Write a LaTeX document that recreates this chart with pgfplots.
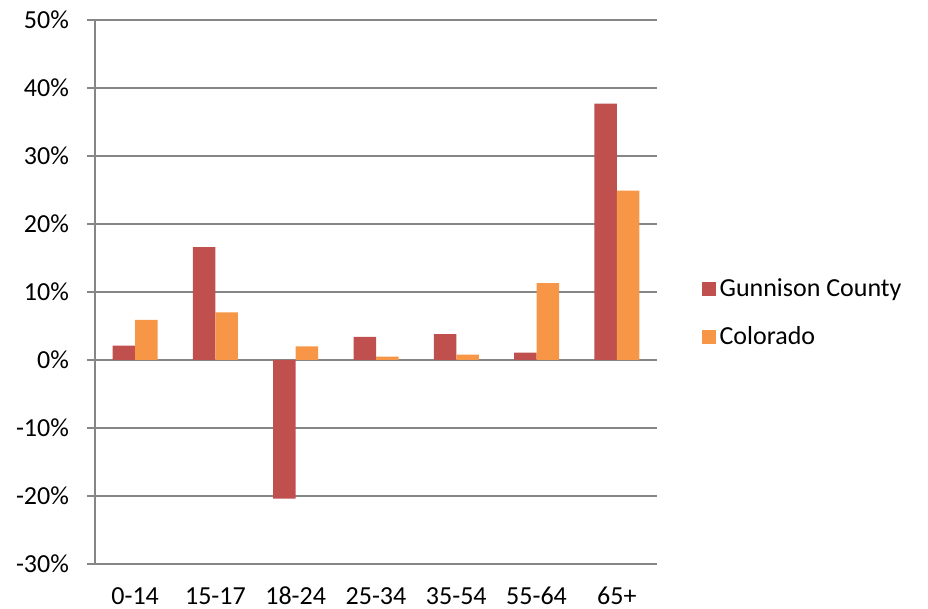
\documentclass[border=0pt]{standalone}
\usepackage{pgfplots}
\pgfplotsset{compat=1.18}
\usepackage{fontspec}
\setmainfont{Carlito}

\definecolor{gunnison}{HTML}{C0504D}
\definecolor{colorado}{HTML}{F79646}
\definecolor{gridgray}{HTML}{868686}

% Population change by age group, in percent
\pgfplotstableread{
idx gunnison colorado
0   2.1      5.9
1   16.6     7.0
2   -20.4    2.0
3   3.4      0.5
4   3.8      0.8
5   1.1      11.3
6   37.7     24.9
}\agedata

\begin{document}
\begin{tikzpicture}
\useasboundingbox (0,0) rectangle (464pt,304.5pt);
\begin{axis}[
  at={(47.5pt,22.5pt)}, anchor=south west,
  scale only axis,
  width=281pt, height=272pt,
  ybar=0pt, bar width=11.25pt,
  xmin=-0.5, xmax=6.5,
  ymin=-30, ymax=50,
  xtick={0,...,6},
  xticklabels={0-14,15-17,18-24,25-34,35-54,55-64,65+},
  ytick={-30,-20,-10,0,10,20,30,40,50},
  yticklabels={-30\%,-20\%,-10\%,0\%,10\%,20\%,30\%,40\%,50\%},
  axis x line*=bottom,
  x axis line style={draw=none},
  axis y line*=left,
  y axis line style={draw=gridgray, line width=0.8pt, -},
  ymajorgrids,
  grid style={draw=gridgray, line width=0.6pt},
  major tick style={draw=gridgray, line width=0.6pt},
  tick align=outside,
  major tick length=4pt,
  x tick style={draw=none},
  every tick label/.append style={font=\fontsize{13}{16}\selectfont, text=black},
  yticklabel style={anchor=east, xshift=-5.5pt},
  xticklabel style={anchor=base, inner sep=0pt, yshift=-16.5pt},
  extra y ticks={0},
  extra y tick labels={},
  extra y tick style={grid style={draw=gridgray, line width=1pt}, major tick length=4pt},
  legend style={draw=none, fill=none, at={(1.068,0.462)}, anchor=west,
    font=\fontsize{13}{16}\selectfont, row sep=9.5pt, legend cell align=left},
  legend image code/.code={\fill[#1] (0pt,-3.5pt) rectangle (7pt,3.5pt);},
]
\addplot[fill=gunnison, draw=none] table[x=idx, y=gunnison] {\agedata};
\addplot[fill=colorado, draw=none] table[x=idx, y=colorado] {\agedata};
\legend{Gunnison County, Colorado}
\end{axis}
\end{tikzpicture}
\end{document}
